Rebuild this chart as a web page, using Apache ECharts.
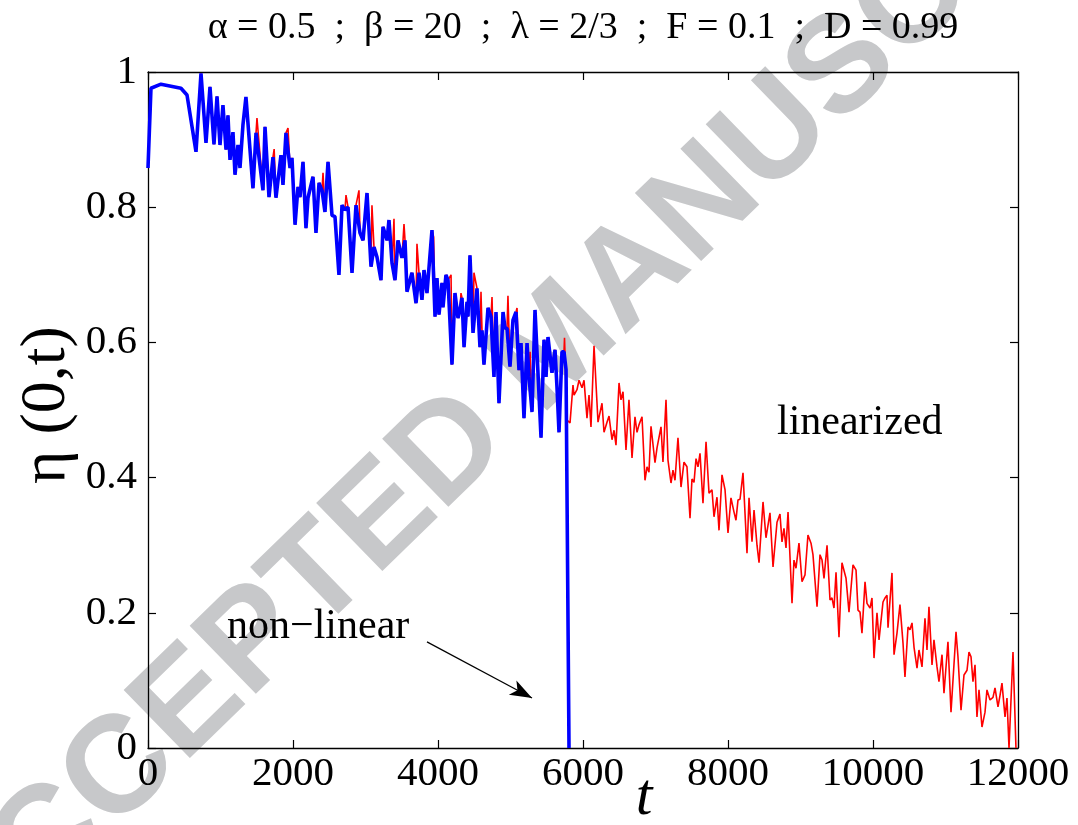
<!DOCTYPE html>
<html><head><meta charset="utf-8">
<script src="https://cdn.jsdelivr.net/npm/echarts@6/dist/echarts.min.js"></script>
<style>html,body{margin:0;padding:0;background:#fff}#c{width:1078px;height:825px}</style>
</head><body><div id="c"></div>
<script>
// non-linear solution (blue)
const nonlinT = [0,41,179,455,538,662,731,800,855,910,952,993,1034,1076,1103,1131,1172,1200,1241,1269,1310,1351,1448,1490,1586,1614,1669,1724,1765,1834,1862,1903,1959,
1986,2028,2069,2097,2138,2179,2207,2276,2317,2359,2400,2441,2483,2538,2579,2634,2676,2717,2759,2814,2869,2924,2966,3021,3076,3117,3159,3214,3241,3297,3324,3366,3407,3448,3503,3545,3572,3641,3697,3738,3779,3807,3848,
3917,3959,3986,4014,4055,4069,4110,4138,4193,4234,4276,4303,4331,4359,4400,4414,4441,4483,4538,4579,4607,4634,4690,4731,4772,4800,4841,4897,4924,4952,4993,5034,5076,5117,5145,5186,5228,5255,5297,5338,5379,5421,5462,5490,5517,5572,5614,5641,5669,5710,5738,5766,5807];
const nonlinEta = [0.858,0.976,0.982,0.976,0.966,0.882,0.998,0.895,0.978,0.893,0.964,0.892,0.951,0.885,0.936,0.870,0.911,0.848,0.892,0.858,0.922,0.963,0.828,0.910,0.825,0.919,0.815,0.874,0.814,0.877,0.833,0.910,0.858,
0.873,0.774,0.830,0.815,0.867,0.769,0.814,0.845,0.762,0.836,0.825,0.793,0.867,0.788,0.786,0.700,0.803,0.796,0.800,0.703,0.803,0.762,0.751,0.821,0.712,0.741,0.726,0.692,0.771,0.751,0.781,0.717,0.692,0.751,0.725,0.751,0.675,0.703,0.658,0.703,0.663,0.707,0.673,
0.766,0.638,0.695,0.641,0.688,0.652,0.700,0.692,0.567,0.673,0.636,0.648,0.666,0.593,0.660,0.638,0.729,0.614,0.680,0.593,0.618,0.567,0.651,0.638,0.549,0.645,0.510,0.645,0.621,0.621,0.564,0.633,0.645,0.559,0.599,0.488,0.599,0.549,0.497,0.648,0.555,0.459,0.604,0.549,0.608,0.555,0.589,0.534,0.467,0.586,0.586,0.560,0.000];
// linearized solution (red): in the early part it runs with the non-linear curve,
// except at these peaks where it shows beside it
const linPeakT = [1503,1740,1931,2414,2731,2910,3089,3393,3531,3710,3940,4180,4317,4496,4593,4745,4965,5090,5270,5476,5600,5745];
const linPeakEta = [0.932,0.886,0.917,0.851,0.818,0.825,0.803,0.783,0.775,0.746,0.756,0.700,0.673,0.703,0.675,0.667,0.669,0.651,0.586,0.596,0.586,0.607];
// linearized solution (red) after the non-linear one breaks down
const linTailT = [5779,5821,5862,5876,5917,5945,5986,6014,6055,6083,6110,6152,6207,6262,6290,6331,6359,6400,6428,6455,6497,6524,6552,6593,6634,6676,6717,6745,6772,6814,6855,6883,6910,6938,6993,7021,7076,7103,7145,7172,7214,7241,7269,7310,7352,7393,7434,7476,7503,7531,7559,7586,7614,7655,7697,7738,7779,7807,7848,7876,7917,7959,8000,8041,8083,8110,8138,8166,8207,8262,8290,8331,8359,8400,8428,8483,8524,8579,8621,8676,8717,8745,8772,8800,8828,8883,8910,8938,8979,9021,9062,9103,9145,9172,9228,9269,9297,9324,9366,9407,9434,9462,9490,9531,9572,9628,9655,9669,9724,9766,9793,9821,9848,9890,9917,9959,9986,10014,10055,10083,10138,10166,10193,10207,10262,10290,10331,10372,10414,10441,10483,10510,10538,10566,10607,10634,10676,10717,10745,10772,10814,10841,10883,10910,10952,10979,11034,11076,11145,11172,11214,11255,11297,11324,11352,11379,11407,11434,11462,11503,11545,11572,11614,11655,11683,11724,11752,11779,11821,11848,11876,11931,11972];
const linTailEta = [0.485,0.481,0.537,0.522,0.530,0.544,0.533,0.544,0.488,0.522,0.475,0.595,0.482,0.510,0.467,0.482,0.491,0.456,0.470,0.448,0.540,0.515,0.527,0.441,0.515,0.429,0.490,0.467,0.478,0.490,0.396,0.416,0.408,0.476,0.422,0.444,0.475,0.423,0.515,0.426,0.392,0.411,0.396,0.459,0.386,0.423,0.416,0.340,0.398,0.393,0.428,0.416,0.436,0.362,0.453,0.377,0.382,0.342,0.371,0.322,0.404,0.382,0.318,0.370,0.349,0.337,0.367,0.368,0.407,0.288,0.370,0.305,0.352,0.300,0.274,0.364,0.311,0.348,0.268,0.334,0.346,0.305,0.325,0.296,0.349,0.214,0.278,0.266,0.303,0.246,0.256,0.315,0.303,0.286,0.209,0.286,0.278,0.251,0.300,0.219,0.222,0.207,0.260,0.164,0.274,0.251,0.251,0.201,0.271,0.263,0.204,0.201,0.170,0.246,0.214,0.207,0.222,0.133,0.200,0.160,0.216,0.222,0.226,0.178,0.259,0.138,0.170,0.212,0.155,0.105,0.179,0.175,0.185,0.149,0.118,0.145,0.120,0.192,0.145,0.209,0.123,0.160,0.120,0.098,0.138,0.081,0.157,0.053,0.172,0.135,0.056,0.108,0.115,0.142,0.135,0.098,0.123,0.046,0.086,0.031,0.053,0.086,0.071,0.075,0.089,0.061,0.078,0.096,0.046,0.074,0.000,0.142,0.000];
const xTicks = [0,2000,4000,6000,8000,10000,12000];
const yTicks = [0,0.2,0.4,0.6,0.8,1];
const titleText = 'α = 0.5  ;  β = 20  ;  λ = 2/3  ;  F = 0.1  ;  D = 0.99';
const arrowFrom = [3848, 0.157];
const arrowTo = [5297, 0.074];

const blueData = nonlinT.map((t,i)=>[t, nonlinEta[i]]);
const nEarly = nonlinT.length - 2;
const redEarly = nonlinT.slice(0,nEarly).map((t,i)=>[t, nonlinEta[i]])
  .concat(linPeakT.map((t,i)=>[t, linPeakEta[i]]))
  .sort((a,b)=>a[0]-b[0]);
const redData = redEarly.concat(linTailT.map((t,i)=>[t, linTailEta[i]]));

const serif = '"Liberation Serif","Times New Roman",serif';
const chart = echarts.init(document.getElementById('c'), null, {renderer:'canvas'});
const axisCommon = {
  type:'value', splitLine:{show:false},
  axisLine:{show:true, onZero:false, lineStyle:{color:'#000', width:1.3}},
  axisTick:{show:true, inside:true, length:8, lineStyle:{color:'#000', width:1.2}}
};
chart.setOption({
  animation:false,
  backgroundColor:'#fff',
  grid:{left:148, right:60, top:72, bottom:77, containLabel:false},
  xAxis:[
    Object.assign({}, axisCommon, {position:'bottom', min:xTicks[0], max:xTicks[xTicks.length-1], interval:xTicks[1]-xTicks[0],
      axisLabel:{color:'#000', fontFamily:serif, fontSize:41, margin:6, formatter:v=>String(v)}}),
    Object.assign({}, axisCommon, {position:'top', min:xTicks[0], max:xTicks[xTicks.length-1], interval:xTicks[1]-xTicks[0], axisLabel:{show:false}})
  ],
  yAxis:[
    Object.assign({}, axisCommon, {position:'left', min:yTicks[0], max:yTicks[yTicks.length-1], interval:0.2,
      axisLabel:{color:'#000', fontFamily:serif, fontSize:41, margin:11, formatter:v=>String(+v.toFixed(1))}}),
    Object.assign({}, axisCommon, {position:'right', min:yTicks[0], max:yTicks[yTicks.length-1], interval:0.2, axisLabel:{show:false}})
  ],
  series:[
    {type:'line', name:'linearized', data:redData, showSymbol:false, symbol:'none', z:3,
      lineStyle:{color:'#ff0000', width:1.6}, clip:true,
      markLine:{silent:true, symbol:['none','arrow'], symbolSize:[12,22], label:{show:false},
        lineStyle:{color:'#000', width:1.2, type:'solid'},
        data:[[{coord:arrowFrom},{coord:arrowTo}]]}},
    {type:'line', name:'non-linear', data:blueData, showSymbol:false, symbol:'none', z:4,
      lineStyle:{color:'#0000ff', width:3.6}, clip:true}
  ],
  graphic:[
    {type:'text', z:-10, x:558, y:347, rotation:44.2*Math.PI/180,
      style:{text:'ACCEPTED MANUSCRIPT', font:'bold 138px "Liberation Sans", Arial, sans-serif', fill:'#c7c8ca', textAlign:'center', textVerticalAlign:'middle', align:'center', verticalAlign:'middle'}},
    {type:'text', z:10, x:583, y:28, style:{text:titleText, font:'38px '+serif, fill:'#000', textAlign:'center', textVerticalAlign:'middle', align:'center', verticalAlign:'middle'}},
    {type:'text', z:10, x:47, y:405, rotation:Math.PI/2, style:{text:'η (0,t)', font:'64px '+serif, fill:'#000', textAlign:'center', textVerticalAlign:'middle', align:'center', verticalAlign:'middle'}},
    {type:'text', z:10, x:644, y:798, style:{text:'t', font:'italic 60px '+serif, fill:'#000', textAlign:'center', textVerticalAlign:'middle', align:'center', verticalAlign:'middle'}},
    {type:'text', z:10, x:777, y:423, style:{text:'linearized', font:'42px '+serif, fill:'#000', textAlign:'left', textVerticalAlign:'middle', align:'left', verticalAlign:'middle'}},
    {type:'text', z:10, x:227, y:627, style:{text:'non\u2212linear', font:'42px '+serif, fill:'#000', textAlign:'left', textVerticalAlign:'middle', align:'left', verticalAlign:'middle'}}
  ]
});
</script></body></html>
